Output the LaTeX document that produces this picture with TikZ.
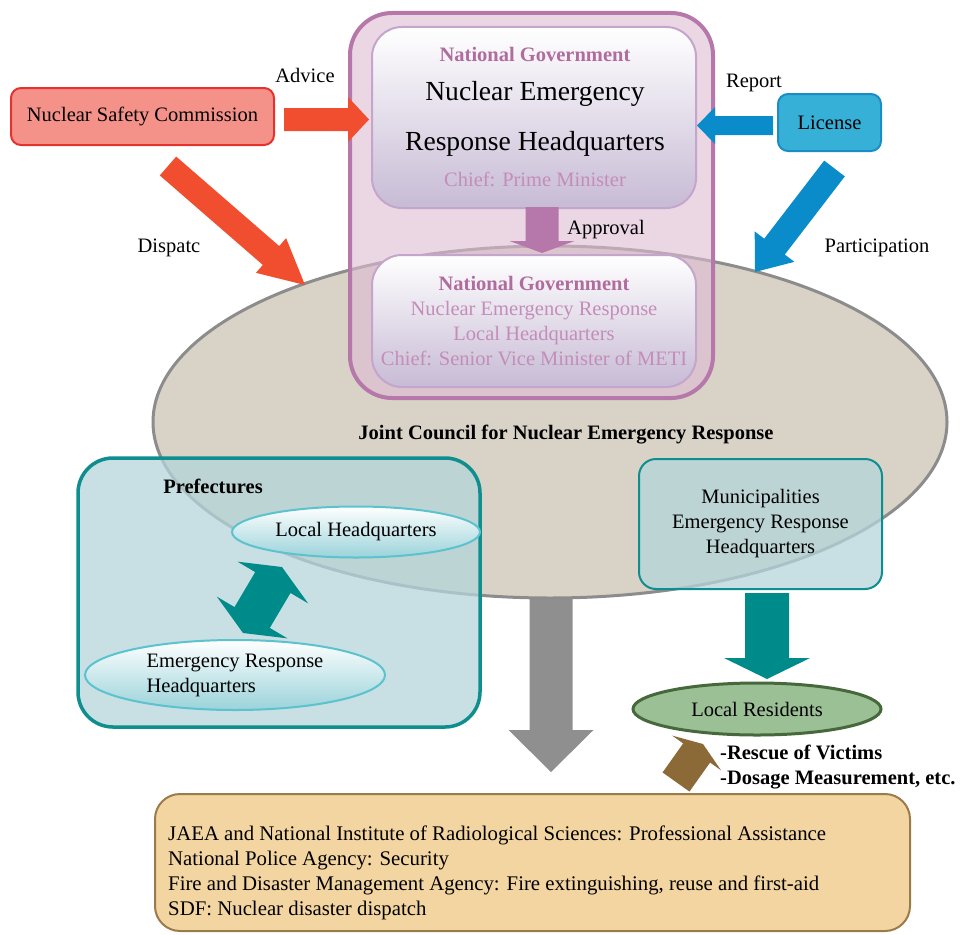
\documentclass[tikz,border=0pt]{standalone}
\usepackage{fontspec}
\setmainfont{Liberation Serif}
\usetikzlibrary{shapes.geometric,calc}
\definecolor{councilfill}{HTML}{D8D2C7}
\definecolor{councildraw}{HTML}{8C8C8C}
\definecolor{govdraw}{HTML}{B678AA}
\definecolor{govfill}{HTML}{DEBBD2}
\definecolor{hqlav}{HTML}{C7BBD5}
\definecolor{hqdraw}{HTML}{C4A5CC}
\definecolor{govpink}{HTML}{B06C9E}
\definecolor{chiefpink}{HTML}{C48DB9}
\definecolor{nscfill}{HTML}{F4928A}
\definecolor{nscdraw}{HTML}{E5322D}
\definecolor{arrowred}{HTML}{F04E2E}
\definecolor{licfill}{HTML}{37B0D8}
\definecolor{licdraw}{HTML}{1A8DC7}
\definecolor{arrowblue}{HTML}{0A8CCA}
\definecolor{tealdraw}{HTML}{0E8E8E}
\definecolor{tealfill}{HTML}{B5D5DB}
\definecolor{arrowteal}{HTML}{008B8B}
\definecolor{ovalteal}{HTML}{9AD3DA}
\definecolor{ovaldraw}{HTML}{5BC2CE}
\definecolor{resfill}{HTML}{9BC096}
\definecolor{resdraw}{HTML}{46683A}
\definecolor{arrowgray}{HTML}{8F8F8F}
\definecolor{arrowbrown}{HTML}{8C6A38}
\definecolor{supfill}{HTML}{F3D5A1}
\definecolor{supdraw}{HTML}{9B7B49}
\newcommand{\txt}{\fontsize{20.5}{25}\selectfont}
\newcommand{\bigtxt}{\fontsize{27.6}{33}\selectfont}
\newcommand{\blockarrow}[6]{%
  \pgfpointdiff{\pgfpointanchor{#2}{center}}{\pgfpointanchor{#3}{center}}%
  \pgfgetlastxy{\arrdx}{\arrdy}%
  \pgfmathsetmacro{\arrang}{atan2(\arrdy,\arrdx)}%
  \pgfmathsetmacro{\arrlen}{veclen(\arrdx,\arrdy)}%
  \fill[#1,shift={(#2)},rotate=\arrang] (0pt,-#4pt) -- ({\arrlen pt-#6pt},-#4pt)
    -- ({\arrlen pt-#6pt},-#5pt) -- (\arrlen pt,0pt) -- ({\arrlen pt-#6pt},#5pt)
    -- ({\arrlen pt-#6pt},#4pt) -- (0pt,#4pt) -- cycle;}
\newcommand{\twinarrow}[6]{%
  \pgfpointdiff{\pgfpointanchor{#2}{center}}{\pgfpointanchor{#3}{center}}%
  \pgfgetlastxy{\arrdx}{\arrdy}%
  \pgfmathsetmacro{\arrang}{atan2(\arrdy,\arrdx)}%
  \pgfmathsetmacro{\arrlen}{veclen(\arrdx,\arrdy)}%
  \fill[#1,shift={(#2)},rotate=\arrang] (0pt,0pt) -- (#6pt,#5pt) -- (#6pt,#4pt)
    -- ({\arrlen pt-#6pt},#4pt) -- ({\arrlen pt-#6pt},#5pt) -- (\arrlen pt,0pt)
    -- ({\arrlen pt-#6pt},-#5pt) -- ({\arrlen pt-#6pt},-#4pt) -- (#6pt,-#4pt)
    -- (#6pt,-#5pt) -- cycle;}
\tikzset{
  lbl/.style={font=\txt,inner sep=0pt,anchor=base},
  counciloval/.style={ellipse,draw=councildraw,fill=councilfill,line width=3pt,minimum width=794pt,minimum height=352pt,inner sep=0pt},
  govframe/.style={draw=govdraw,line width=4pt,rounded corners=42pt,minimum width=363pt,minimum height=385pt,inner sep=0pt},
  hqbox/.style={draw=hqdraw,line width=2pt,rounded corners=30pt,top color=white,bottom color=hqlav,minimum width=324pt,inner sep=0pt},
  nscbox/.style={draw=nscdraw,fill=nscfill,line width=2pt,rounded corners=10pt,minimum width=263pt,minimum height=57pt,font=\txt},
  licbox/.style={draw=licdraw,fill=licfill,line width=2pt,rounded corners=10pt,minimum width=103pt,minimum height=57pt,font=\txt},
  tealbox/.style={draw=tealdraw,fill=tealfill,fill opacity=0.75,text opacity=1,font=\txt,align=center,inner sep=0pt},
  tealoval/.style={ellipse,draw=ovaldraw,line width=2pt,top color=white,bottom color=ovalteal,font=\txt,inner sep=0pt},
  resoval/.style={ellipse,draw=resdraw,fill=resfill,line width=3pt,minimum width=248pt,minimum height=52pt,font=\txt,inner sep=0pt},
  supbox/.style={draw=supdraw,fill=supfill,line width=2pt,rounded corners=25pt,minimum width=755pt,minimum height=137pt,inner sep=0pt}
}
\begin{document}
\begin{tikzpicture}[x=1pt,y=-1pt]
  \useasboundingbox (0,0) rectangle (960,934);
  \coordinate (gryA) at (551,590);
  \coordinate (gryB) at (551,772);
  \blockarrow{arrowgray}{gryA}{gryB}{21.5}{42.5}{42}
  \node[counciloval] (council) at (550,422) {};
  \node[lbl,font=\txt\bfseries] (councillbl) at (566,439) {Joint Council for Nuclear Emergency Response};
  \coordinate (disA) at (168,166);
  \coordinate (disB) at (305,285);
  \blockarrow{arrowred}{disA}{disB}{12.5}{23}{45}
  \node[lbl] (dislbl) at (169,252) {Dispatc};
  \coordinate (parA) at (834.5,168.5);
  \coordinate (parB) at (755,272);
  \blockarrow{arrowblue}{parA}{parB}{13}{25}{32}
  \node[lbl] (parlbl) at (877,252) {Participation};
  \node[govframe,fill=govfill,fill opacity=0.6] (gov) at (531.5,205.5) {};
  \node[hqbox,minimum height=181pt] (hq) at (534,117.5) {};
  \node[lbl,font=\txt\bfseries,text=govpink] (hqgov) at (535,61) {National Government};
  \node[lbl,font=\bigtxt] (hqname) at (535,100) {Nuclear Emergency};
  \node[lbl,font=\bigtxt] (hqname2) at (535,150) {Response Headquarters};
  \node[lbl,text=chiefpink] (hqchief) at (535,186) {Chief: Prime Minister};
  \node[hqbox,minimum height=132pt,font=\txt,text=chiefpink,align=center] (localhq) at (534,321)
    {\textbf{\color{govpink}National Government}\\Nuclear Emergency Response\\Local Headquarters\\Chief: Senior Vice Minister of METI};
  \coordinate (aprA) at (542,207);
  \coordinate (aprB) at (542,253);
  \blockarrow{govdraw}{aprA}{aprB}{16.5}{32.5}{12}
  \node[lbl] (aprlbl) at (606,234) {Approval};
  \node[nscbox] (nsc) at (142.5,116.5) {Nuclear Safety Commission};
  \coordinate (advA) at (284,119.5);
  \coordinate (advB) at (369,119.5);
  \blockarrow{arrowred}{advA}{advB}{11.5}{22.5}{21}
  \node[lbl] (advlbl) at (305,82) {Advice};
  \node[licbox] (lic) at (829.5,122.5) {License};
  \coordinate (repA) at (773,125.5);
  \coordinate (repB) at (697,125.5);
  \blockarrow{arrowblue}{repA}{repB}{9.5}{18.5}{18}
  \node[lbl] (replbl) at (754,87) {Report};
  \node[tealbox,line width=3.5pt,rounded corners=35pt,minimum width=402pt,minimum height=269pt] (pref) at (279,592.5) {};
  \node[lbl,font=\txt\bfseries] (preflbl) at (213,493) {Prefectures};
  \node[tealoval,minimum width=248pt,minimum height=51pt] (prefhq) at (356,532) {Local Headquarters};
  \node[tealoval,minimum width=300pt,minimum height=70pt,align=left] (preferh) at (235,675) {Emergency Response\\Headquarters};
  \coordinate (twinA) at (243,633);
  \coordinate (twinB) at (282,567);
  \twinarrow{arrowteal}{twinA}{twinB}{20.5}{41}{18}
  \node[tealbox,line width=2pt,rounded corners=17pt,minimum width=243pt,minimum height=130pt] (muni) at (760.5,524)
    {Municipalities\\Emergency Response\\Headquarters};
  \coordinate (munA) at (767,593);
  \coordinate (munB) at (767,679);
  \blockarrow{arrowteal}{munA}{munB}{22}{43}{21}
  \node[resoval] (res) at (757,709) {Local Residents};
  \node[supbox] (sup) at (532.5,862.5) {};
  \node[lbl,anchor=west,align=left,font=\fontsize{20.8}{25}\selectfont] (suptxt) at (168,873)
    {JAEA and National Institute of Radiological Sciences: Professional Assistance\\
     National Police Agency: Security\\
     Fire and Disaster Management Agency: Fire extinguishing, reuse and first-aid\\
     SDF: Nuclear disaster dispatch};
  \coordinate (brnA) at (676,782);
  \coordinate (brnB) at (703,744);
  \blockarrow{arrowbrown}{brnA}{brnB}{16.5}{30}{11}
  \node[lbl,anchor=west,align=left,font=\txt\bfseries] (rescue) at (720,767)
    {-Rescue of Victims\\-Dosage Measurement, etc.};
\end{tikzpicture}
\end{document}
